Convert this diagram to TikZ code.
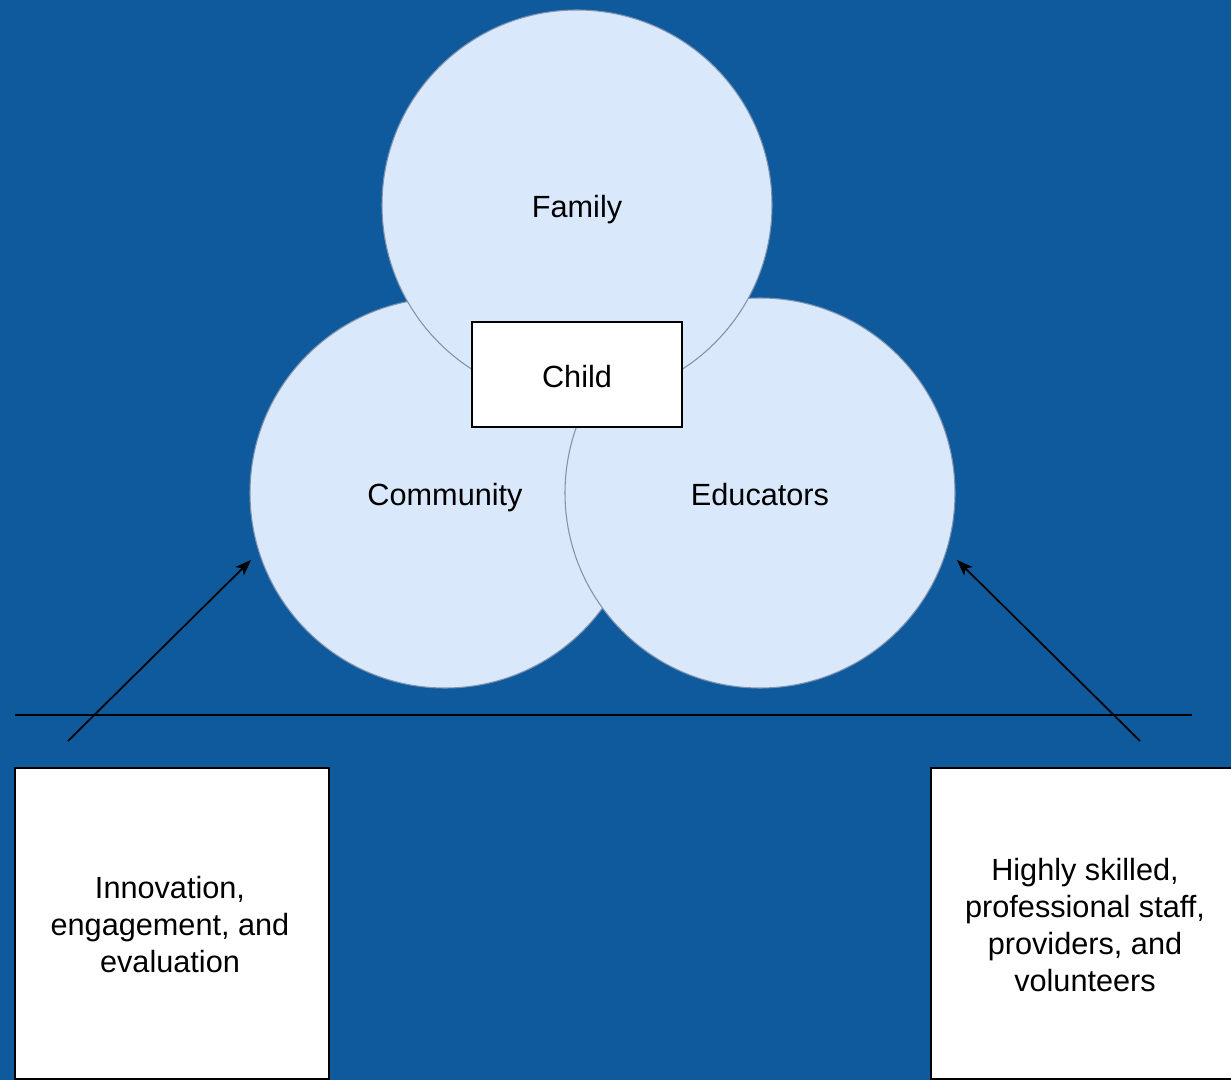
\documentclass[tikz,border=0pt]{standalone}
\usepackage{fontspec}
\setmainfont{Liberation Sans}
\usetikzlibrary{arrows.meta}
\definecolor{bg}{HTML}{0F5A9D}
\definecolor{circfill}{HTML}{DAE8FC}
\definecolor{circstroke}{HTML}{7F93AE}
\tikzset{
  lbl/.style={font=\fontsize{23}{27.75}\selectfont, text height=24pt, text depth=4.6pt},
  circ/.style={circle, draw=circstroke, fill=circfill, minimum size=292.5pt, inner sep=0pt, line width=0.8pt, lbl},
  childbox/.style={rectangle, draw=black, fill=white, minimum width=157.5pt, minimum height=78.75pt, inner sep=0pt, line width=1.1pt, lbl},
  infobox/.style={rectangle, draw=black, fill=white, minimum height=233.25pt, inner sep=0pt, line width=1.1pt},
  infotext/.style={align=center, font=\fontsize{23}{27.75}\selectfont},
  conn/.style={draw=black, line width=1.3pt},
  arr/.style={conn, -{Stealth[length=12pt,width=9pt,inset=3pt]}}
}
\begin{document}
\begin{tikzpicture}[x=0.75pt,y=-0.75pt]
\useasboundingbox (0,0) rectangle (1231,1080);
\clip (0,0) rectangle (1231,1080);
\fill[bg] (0,0) rectangle (1231,1080);
\node[circ] (community) at (445,493) {Community};
\node[circ] (educators) at (760,493) {Educators};
\node[circ] (family) at (577,205) {Family};
\node[childbox] (child) at (577,374.5) {Child};
\node[infobox, minimum width=235.5pt] (left) at (172,923.5) {};
\node[infobox, minimum width=231pt] (right) at (1085,923.5) {};
\node[infotext] (lefttext) at (170,925) {Innovation,\\engagement, and\\evaluation};
\node[infotext] (righttext) at (1085,925.5) {Highly skilled,\\professional staff,\\providers, and\\volunteers};
\coordinate (hl) at (15,715);
\coordinate (hr) at (1192,715);
\draw[conn] (hl) -- (hr);
\coordinate (la) at (68,741);
\coordinate (lt) at (251,560);
\coordinate (ra) at (1140,741);
\coordinate (rt) at (957,560);
\draw[arr] (la) -- (lt);
\draw[arr] (ra) -- (rt);
\end{tikzpicture}
\end{document}
